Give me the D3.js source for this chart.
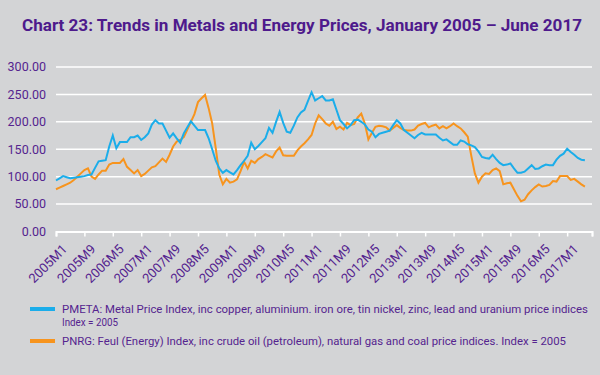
<!DOCTYPE html>
<html>
<head>
<meta charset="utf-8">
<script src="https://cdn.jsdelivr.net/npm/d3@7"></script>
<style>
 body { margin: 0; background: #d3d4d6; }
 svg { display: block; }
</style>
</head>
<body>
<svg id="chart"></svg>
<script>
// monthly index values, 2005M1 .. 2017M6
const pmeta = [
 93, 97, 101, 99, 97, 98, 99, 100, 101, 103, 104, 116,
 128, 129, 130, 155, 175, 152, 163, 163, 163, 172, 172, 175,
 167, 172, 179, 195, 203, 197, 197, 184, 171, 179, 170, 162,
 179, 190, 201, 193, 185, 185, 185, 170, 150, 129, 115, 107,
 112, 108, 104, 112, 121, 129, 138, 162, 150, 156, 163, 170,
 189, 180, 200, 218, 198, 182, 180, 193, 208, 217, 222, 238,
 254, 239, 243, 247, 239, 239, 241, 222, 203, 196, 188, 194,
 203, 204, 200, 195, 186, 182, 172, 178, 180, 182, 184, 194,
 203, 197, 185, 180, 175, 170, 176, 180, 177, 177, 177, 177,
 171, 166, 168, 163, 158, 158, 166, 164, 159, 157, 154, 146,
 136, 134, 133, 140, 132, 125, 121, 122, 124, 115, 107, 107,
 109, 115, 121, 114, 115, 119, 122, 121, 121, 131, 138, 142,
 151, 145, 140, 134, 131, 130
];
const pnrg = [
 77, 80, 83, 86, 89, 94, 100, 106, 112, 115, 100, 96,
 104, 111, 111, 122, 125, 125, 125, 132, 118, 112, 106, 112,
 101, 105, 111, 117, 119, 126, 133, 127, 140, 155, 164, 167,
 172, 186, 200, 214, 236, 243, 249, 225, 197, 152, 104, 86,
 96, 89, 91, 95, 110, 127, 115, 129, 125, 132, 136, 141,
 138, 135, 146, 153, 139, 138, 138, 138, 148, 155, 161, 168,
 176, 197, 212, 205, 197, 193, 200, 187, 191, 186, 198, 194,
 196, 208, 215, 197, 168, 180, 191, 193, 192, 190, 184, 189,
 194, 189, 185, 184, 184, 186, 193, 196, 198, 190, 193, 195,
 188, 192, 188, 192, 197, 192, 188, 181, 173, 138, 106, 89,
 100, 106, 105, 112, 115, 110, 86, 88, 89, 77, 65, 55,
 58, 68, 75, 81, 86, 82, 83, 85, 92, 91, 101, 101,
 101, 94, 96, 91, 86, 82
];
const tickLabels = ["2005M1", "2005M9", "2006M5", "2007M1", "2007M9", "2008M5", "2009M1",
 "2009M9", "2010M5", "2011M1", "2011M9", "2012M5", "2013M1", "2013M9", "2014M5",
 "2015M1", "2015M9", "2016M5", "2017M1"];
const yTicks = [0, 50, 100, 150, 200, 250, 300];
const legendItems = [
 { lines: ["PMETA: Metal Price Index, inc copper, aluminium. iron ore, tin nickel, zinc, lead and uranium price indices", "Index = 2005"], color: "#1badea", widths: [526, 56] },
 { lines: ["PNRG: Feul (Energy) Index, inc crude oil (petroleum), natural gas and coal price indices. Index = 2005"], color: "#f7941e", widths: [504] }
];

const W = 600, H = 375;
const purple = "#55248f";
const narrow = '"Liberation Sans Narrow", "Arial Narrow", Roboto, sans-serif';

const svg = d3.select("#chart").attr("width", W).attr("height", H);
svg.append("rect").attr("width", W).attr("height", H).attr("fill", "#d3d4d6");

// title
svg.append("text")
 .attr("x", 22).attr("y", 31)
 .attr("textLength", 560).attr("lengthAdjust", "spacingAndGlyphs")
 .attr("fill", "#4e1a8c")
 .style("font-family", 'Roboto, "Open Sans", sans-serif')
 .style("font-weight", "bold")
 .style("font-size", "17px")
 .text("Chart 23: Trends in Metals and Energy Prices, January 2005 – June 2017");

const x = d3.scaleLinear().domain([0, 151]).range([56, 592]);
const y = d3.scaleLinear().domain([0, 300]).range([231.5, 67]);

// gridlines
svg.append("g").selectAll("line")
 .data(yTicks.filter(d => d > 0))
 .join("line")
 .attr("x1", x(0)).attr("x2", x(151))
 .attr("y1", d => y(d)).attr("y2", d => y(d))
 .attr("stroke", "#fff").attr("stroke-width", 1.5);

// y labels
svg.append("g").selectAll("text")
 .data(yTicks)
 .join("text")
 .attr("x", 46).attr("y", d => y(d)).attr("dy", "0.35em")
 .attr("text-anchor", "end")
 .attr("fill", purple)
 .style("font-family", narrow).style("font-size", "12.5px")
 .text(d => d.toFixed(2));

// x axis
const xAxis = d3.axisBottom(x)
 .tickValues(tickLabels.map((d, i) => i * 8).concat([151]))
 .tickSize(5)
 .tickFormat(d => tickLabels[d / 8] || "");
const gx = svg.append("g").attr("transform", `translate(0,${y(0)})`).call(xAxis);
gx.select(".domain").attr("stroke", "#fff").attr("stroke-width", 2);
gx.selectAll(".tick line").attr("stroke", "#fff").attr("stroke-width", 1.5);
gx.selectAll(".tick text")
 .attr("fill", purple)
 .style("font-family", narrow).style("font-size", "13px")
 .attr("text-anchor", "end")
 .attr("transform", "translate(5,12) rotate(-45)")
 .attr("y", 0).attr("dy", "0.7em");

// lines
const line = d3.line().x((d, i) => x(i)).y(d => y(d));
svg.append("path").datum(pnrg)
 .attr("d", line).attr("fill", "none")
 .attr("stroke", "#f7941e").attr("stroke-width", 2);
svg.append("path").datum(pmeta)
 .attr("d", line).attr("fill", "none")
 .attr("stroke", "#1badea").attr("stroke-width", 2);

// legend
const lg = svg.append("g");
const rows = [
 { item: legendItems[0], y: 309 },
 { item: legendItems[1], y: 341 }
];
rows.forEach(r => {
 lg.append("rect")
 .attr("x", 30).attr("y", r.y - 2).attr("width", 25).attr("height", 4)
 .attr("fill", r.item.color);
 r.item.lines.forEach((t, j) => {
 lg.append("text")
 .attr("x", 62).attr("y", r.y + j * 13).attr("dy", "0.35em")
 .attr("textLength", r.item.widths[j]).attr("lengthAdjust", "spacingAndGlyphs")
 .attr("fill", purple)
 .style("font-family", narrow).style("font-size", "11.5px")
 .text(t);
 });
});
</script>
</body>
</html>
